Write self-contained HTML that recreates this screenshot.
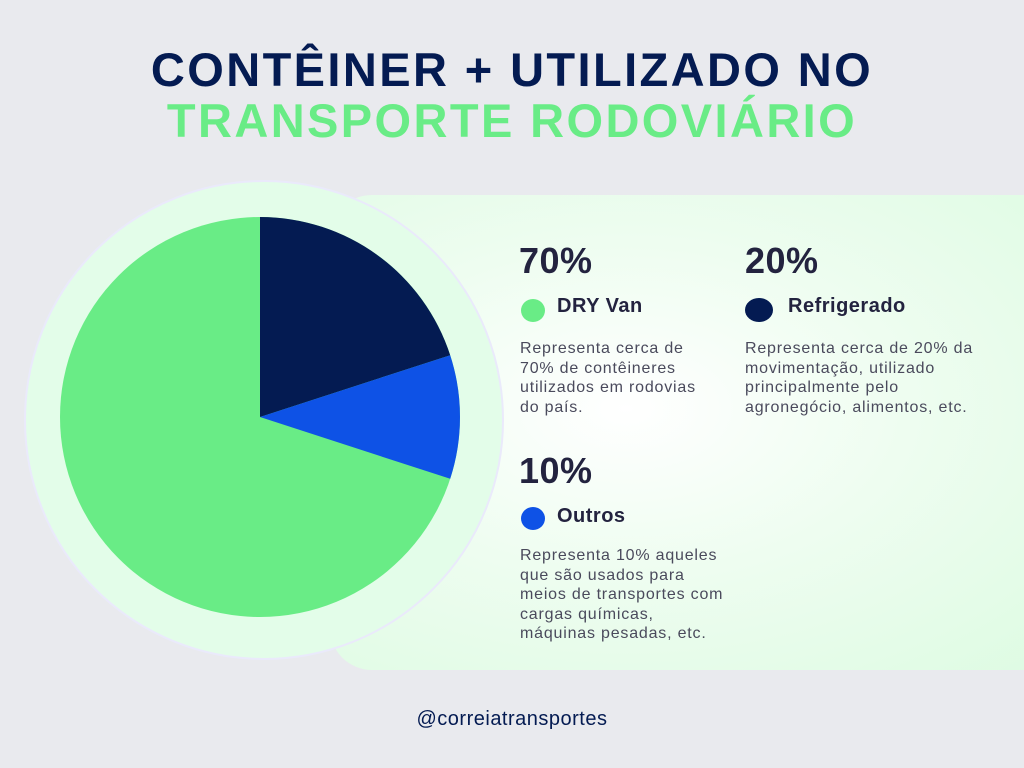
<!DOCTYPE html>
<html><head><meta charset="utf-8"><style>
body{margin:0;width:1024px;height:768px;background:#e9eaee;position:relative;overflow:hidden;font-family:"Liberation Sans",sans-serif}
.t{position:absolute;left:0;width:1024px;text-align:center;font-weight:bold;font-size:47px;letter-spacing:2.4px;line-height:52px}
.panel{position:absolute;left:330px;top:195px;width:740px;height:475px;border-radius:42px;background:radial-gradient(ellipse at 40% 45%,#ffffff 0%,#eefdf0 45%,#ddfbe2 100%)}
.outer{position:absolute;left:24px;top:180px;width:476px;height:476px;border-radius:50%;background:#e3fde9;border:2px solid #eaeafb}
.pct{position:absolute;font-weight:bold;font-size:36px;color:#23233f;letter-spacing:0.5px}
.lab{position:absolute;font-weight:bold;font-size:20px;color:#23233f;letter-spacing:0.5px}
.dot{position:absolute;width:24px;height:23px;border-radius:50%}
.d{position:absolute;font-size:16px;line-height:19.5px;color:#4a4a5c;letter-spacing:0.8px;white-space:nowrap}
</style></head><body>
<div class="t" style="top:44px;color:#041b52">CONTÊINER + UTILIZADO NO</div>
<div class="t" style="top:95px;color:#69ec86">TRANSPORTE RODOVIÁRIO</div>
<div class="panel"></div>
<div class="outer"></div>
<svg style="position:absolute;left:0;top:0" width="1024" height="768">
<circle cx="260" cy="417" r="200" fill="#69ec86"/>
<path d="M260 417 L260 217 A200 200 0 0 1 450.2 355.2 Z" fill="#041b52"/>
<path d="M260 417 L450.2 355.2 A200 200 0 0 1 450.2 478.8 Z" fill="#0e52e6"/>
</svg>
<div class="pct" style="left:519px;top:240px">70%</div>
<div class="dot" style="left:521px;top:299px;background:#69ec86"></div>
<div class="lab" style="left:557px;top:295px">DRY Van</div>
<div class="d" style="left:520px;top:339px">Representa cerca de<br>70% de contêineres<br>utilizados em rodovias<br>do país.</div>
<div class="pct" style="left:745px;top:240px">20%</div>
<div class="dot" style="left:745px;top:298px;width:28px;height:24px;background:#041b52"></div>
<div class="lab" style="left:788px;top:295px">Refrigerado</div>
<div class="d" style="left:745px;top:339px">Representa cerca de 20% da<br>movimentação, utilizado<br>principalmente pelo<br>agronegócio, alimentos, etc.</div>
<div class="pct" style="left:519px;top:450px">10%</div>
<div class="dot" style="left:521px;top:507px;background:#0e52e6"></div>
<div class="lab" style="left:557px;top:505px">Outros</div>
<div class="d" style="left:520px;top:546px">Representa 10% aqueles<br>que são usados para<br>meios de transportes com<br>cargas químicas,<br>máquinas pesadas, etc.</div>
<div style="position:absolute;left:0;width:1024px;top:708px;text-align:center;font-size:20px;color:#041b52;letter-spacing:0.5px">@correiatransportes</div>
</body></html>
